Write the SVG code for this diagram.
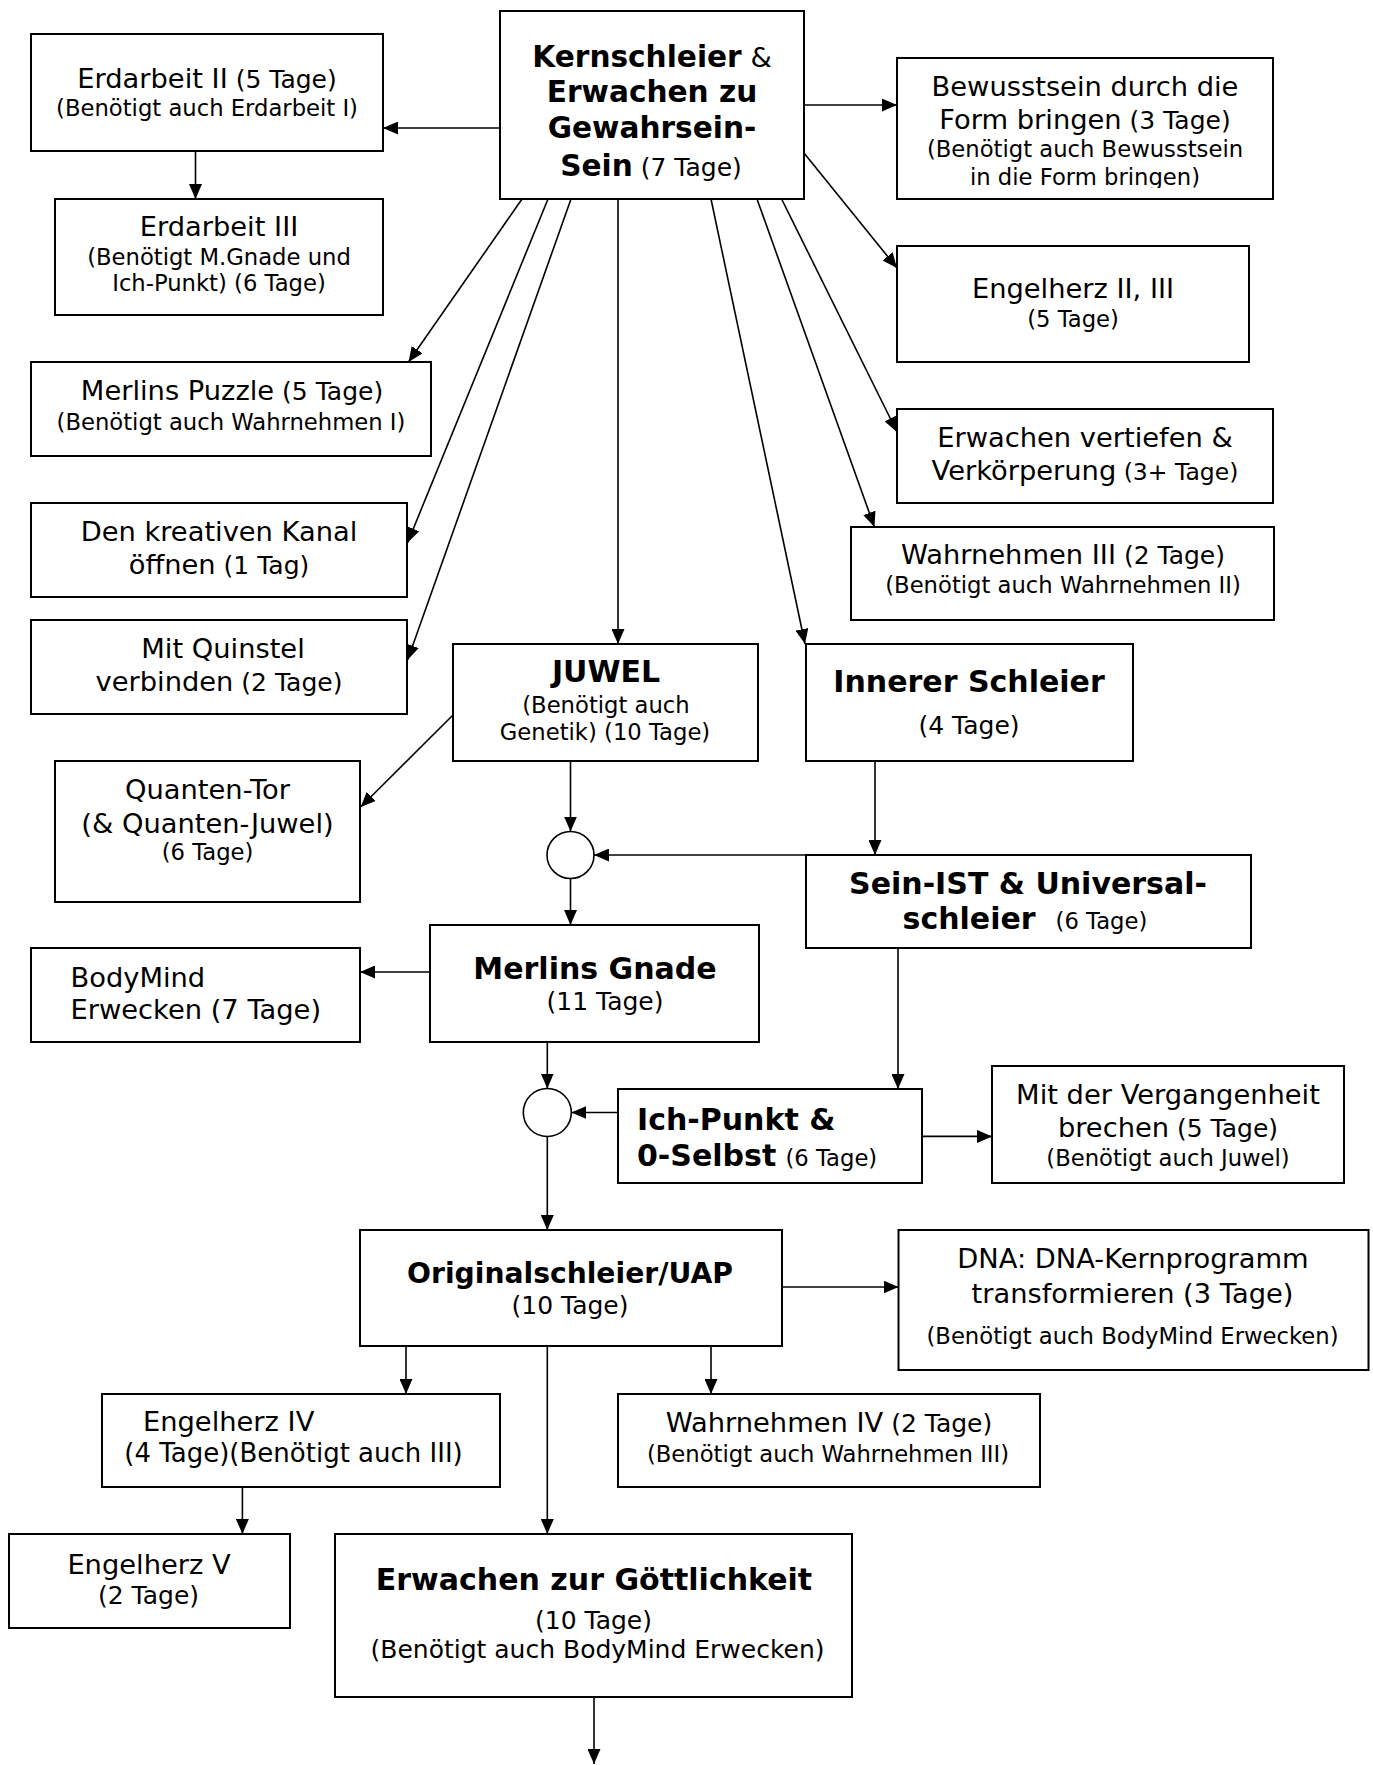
<svg xmlns="http://www.w3.org/2000/svg" width="1373" height="1765" viewBox="0 0 1373 1765">
<defs>
<marker id="ah" markerUnits="userSpaceOnUse" markerWidth="16" markerHeight="13" refX="15" refY="6.5" orient="auto"><path d="M0,0 L15,6.5 L0,13 z" fill="#000"/></marker>
<clipPath id="clipBew"><rect x="897" y="58" width="376" height="130"/></clipPath>
</defs>
<style>
.b{fill:#fff;stroke:#000;stroke-width:2}
.c{fill:#fff;stroke:#000;stroke-width:1.6}
text{font-family:"DejaVu Sans",Verdana,sans-serif;fill:#000;text-anchor:middle}
.st{text-anchor:start}
.L{font-size:27.3px}
.S1{font-size:25px}
.S2{font-size:22.7px}
.B{font-size:30px;font-weight:bold}
.con line{stroke:#000;stroke-width:1.6;marker-end:url(#ah)}
</style>
<rect width="1373" height="1765" fill="#fff"/>

<g id="kernschleier">
<rect class="b" x="500" y="11" width="304" height="188"/>
<text x="652" y="67"><tspan class="B" style="font-size:29.6px">Kernschleier</tspan><tspan class="L"> &amp;</tspan></text>
<text class="B" x="652" y="102" style="font-size:29.6px">Erwachen zu</text>
<text class="B" x="652" y="138" style="font-size:29.6px">Gewahrsein-</text>
<text x="651" y="176"><tspan class="B" style="font-size:29.6px">Sein</tspan><tspan class="S1"> (7 Tage)</tspan></text>
</g>

<g id="erdarbeit2">
<rect class="b" x="31" y="34" width="352" height="117"/>
<text x="207" y="88"><tspan class="L">Erdarbeit II</tspan><tspan class="S1"> (5 Tage)</tspan></text>
<text class="S2" x="207" y="116">(Benötigt auch Erdarbeit I)</text>
</g>

<g id="erdarbeit3">
<rect class="b" x="55" y="199" width="328" height="116"/>
<text class="L" x="219" y="236">Erdarbeit III</text>
<text class="S2" x="219" y="265">(Benötigt M.Gnade und</text>
<text class="S2" x="219" y="291">Ich-Punkt) (6 Tage)</text>
</g>

<g id="merlins-puzzle">
<rect class="b" x="31" y="362" width="400" height="94"/>
<text x="232" y="400"><tspan class="L">Merlins Puzzle</tspan><tspan class="S1"> (5 Tage)</tspan></text>
<text class="S2" x="231" y="430">(Benötigt auch Wahrnehmen I)</text>
</g>

<g id="kanal">
<rect class="b" x="31" y="503" width="376" height="94"/>
<text class="L" x="219" y="541">Den kreativen Kanal</text>
<text x="219" y="574"><tspan class="L">öffnen</tspan><tspan class="S1"> (1 Tag)</tspan></text>
</g>

<g id="quinstel">
<rect class="b" x="31" y="620" width="376" height="94"/>
<text class="L" x="223" y="658">Mit Quinstel</text>
<text x="219" y="691"><tspan class="L">verbinden</tspan><tspan class="S1"> (2 Tage)</tspan></text>
</g>

<g id="quanten-tor">
<rect class="b" x="55" y="761" width="305" height="141"/>
<text class="L" x="207.5" y="799">Quanten-Tor</text>
<text class="L" x="207.5" y="833">(&amp; Quanten-Juwel)</text>
<text class="S2" x="207.5" y="860">(6 Tage)</text>
</g>

<g id="bodymind">
<rect class="b" x="31" y="948" width="329" height="94"/>
<text class="L st" x="70.5" y="987">BodyMind</text>
<text class="L st" x="70.5" y="1019">Erwecken (7 Tage)</text>
</g>

<g id="bewusstsein">
<rect class="b" x="897" y="58" width="376" height="141"/>
<g clip-path="url(#clipBew)">
<text class="L" x="1085" y="96">Bewusstsein durch die</text>
<text x="1085" y="129"><tspan class="L">Form bringen</tspan><tspan class="S1"> (3 Tage)</tspan></text>
<text class="S2" x="1085" y="157">(Benötigt auch Bewusstsein</text>
<text class="S2" x="1085" y="185">in die Form bringen)</text>
</g>
</g>

<g id="engelherz23">
<rect class="b" x="897" y="246" width="352" height="116"/>
<text class="L" x="1073" y="298">Engelherz II, III</text>
<text class="S2" x="1073" y="327">(5 Tage)</text>
</g>

<g id="erwachen-vertiefen">
<rect class="b" x="897" y="409" width="376" height="94"/>
<text class="L" x="1085" y="447">Erwachen vertiefen &amp;</text>
<text x="1085" y="480"><tspan class="L">Verkörperung</tspan><tspan style="font-size:23.5px"> (3+ Tage)</tspan></text>
</g>

<g id="wahrnehmen3">
<rect class="b" x="851" y="527" width="423" height="93"/>
<text x="1063" y="564"><tspan class="L">Wahrnehmen III</tspan><tspan class="S1"> (2 Tage)</tspan></text>
<text class="S2" x="1063" y="592.5">(Benötigt auch Wahrnehmen II)</text>
</g>

<g id="juwel">
<rect class="b" x="453" y="644" width="305" height="117"/>
<text class="B" x="606" y="682">JUWEL</text>
<text class="S2" x="606" y="713">(Benötigt auch</text>
<text class="S2" x="605" y="740">Genetik) (10 Tage)</text>
</g>

<g id="innerer-schleier">
<rect class="b" x="806" y="644" width="327" height="117"/>
<text class="B" x="969" y="692">Innerer Schleier</text>
<text class="S1" x="969" y="734">(4 Tage)</text>
</g>

<g id="sein-ist">
<rect class="b" x="806" y="855" width="445" height="93"/>
<text class="B" x="1028" y="894">Sein-IST &amp; Universal-</text>
<text class="st" x="902.6" y="929"><tspan class="B">schleier</tspan><tspan class="S2" x="1055.6">(6 Tage)</tspan></text>
</g>

<g id="merge1">
<circle class="c" cx="570.5" cy="855" r="23.5"/>
</g>

<g id="merlins-gnade">
<rect class="b" x="430" y="925" width="329" height="117"/>
<text class="B" x="595" y="979">Merlins Gnade</text>
<text class="S1" x="605" y="1010">(11 Tage)</text>
</g>

<g id="merge2">
<circle class="c" cx="547.3" cy="1112.5" r="24"/>
</g>

<g id="ich-punkt">
<rect class="b" x="618" y="1089" width="304" height="94"/>
<text class="B st" x="637" y="1130">Ich-Punkt &amp;</text>
<text class="st" x="637" y="1166"><tspan class="B">0-Selbst</tspan><tspan class="S2" x="785.5">(6 Tage)</tspan></text>
</g>

<g id="vergangenheit">
<rect class="b" x="992" y="1066" width="352" height="117"/>
<text class="L" x="1168" y="1104">Mit der Vergangenheit</text>
<text x="1168" y="1136.5"><tspan class="L">brechen</tspan><tspan class="S1"> (5 Tage)</tspan></text>
<text class="S2" x="1168" y="1166">(Benötigt auch Juwel)</text>
</g>

<g id="originalschleier">
<rect class="b" x="360" y="1230" width="422" height="116"/>
<text class="B" x="570" y="1283" style="font-size:28.2px">Originalschleier/UAP</text>
<text class="S1" x="570" y="1314">(10 Tage)</text>
</g>

<g id="dna">
<rect class="b" x="898.5" y="1230" width="470" height="140"/>
<text class="L" x="1133" y="1268">DNA: DNA-Kernprogramm</text>
<text class="L" x="1132.5" y="1303">transformieren (3 Tage)</text>
<text class="S2" x="1132.5" y="1344">(Benötigt auch BodyMind Erwecken)</text>
</g>

<g id="engelherz4">
<rect class="b" x="102" y="1394" width="398" height="93"/>
<text class="L st" x="143" y="1431">Engelherz IV</text>
<text x="293.5" y="1461.5" style="font-size:26px">(4 Tage)(Benötigt auch III)</text>
</g>

<g id="wahrnehmen4">
<rect class="b" x="618" y="1394" width="422" height="93"/>
<text x="829" y="1432"><tspan class="L">Wahrnehmen IV</tspan><tspan class="S1"> (2 Tage)</tspan></text>
<text class="S2" x="828" y="1461.5">(Benötigt auch Wahrnehmen III)</text>
</g>

<g id="engelherz5">
<rect class="b" x="9" y="1534" width="281" height="94"/>
<text class="L" x="149" y="1573.5">Engelherz V</text>
<text class="S1" x="148.5" y="1604">(2 Tage)</text>
</g>

<g id="goettlichkeit">
<rect class="b" x="335" y="1534" width="517" height="163"/>
<text class="B" x="594" y="1590">Erwachen zur Göttlichkeit</text>
<text class="S1" x="593.5" y="1629">(10 Tage)</text>
<text x="597.5" y="1658" style="font-size:25px">(Benötigt auch BodyMind Erwecken)</text>
</g>

<g id="connectors" class="con">
<line x1="500" y1="128" x2="383" y2="128"/>
<line x1="195.5" y1="151" x2="195.5" y2="199"/>
<line x1="522" y1="199" x2="408.5" y2="362"/>
<line x1="548" y1="199" x2="407.6" y2="542.7"/>
<line x1="571" y1="199" x2="407.6" y2="660"/>
<line x1="618" y1="199" x2="618" y2="644"/>
<line x1="804" y1="105" x2="897" y2="105"/>
<line x1="804" y1="153" x2="897" y2="268"/>
<line x1="781.6" y1="199" x2="897" y2="432"/>
<line x1="757" y1="199" x2="874.4" y2="527"/>
<line x1="711" y1="199" x2="805" y2="644"/>
<line x1="453" y1="715" x2="360.7" y2="807"/>
<line x1="570.5" y1="761" x2="570.5" y2="831.5"/>
<line x1="875" y1="761" x2="875" y2="855"/>
<line x1="806" y1="855" x2="594" y2="855"/>
<line x1="570.5" y1="878.5" x2="570.5" y2="925"/>
<line x1="430" y1="972" x2="360" y2="972"/>
<line x1="547.3" y1="1042" x2="547.3" y2="1088.5"/>
<line x1="898" y1="948" x2="898" y2="1089"/>
<line x1="618" y1="1112.5" x2="571.3" y2="1112.5"/>
<line x1="922" y1="1136.4" x2="992" y2="1136.4"/>
<line x1="547.3" y1="1136.5" x2="547.3" y2="1230"/>
<line x1="782" y1="1287" x2="898.5" y2="1287"/>
<line x1="406" y1="1346" x2="406" y2="1394"/>
<line x1="711" y1="1346" x2="711" y2="1394"/>
<line x1="547.3" y1="1346" x2="547.3" y2="1534"/>
<line x1="242.4" y1="1487" x2="242.4" y2="1534"/>
<line x1="594" y1="1697" x2="594" y2="1764"/>
</g>
</svg>
